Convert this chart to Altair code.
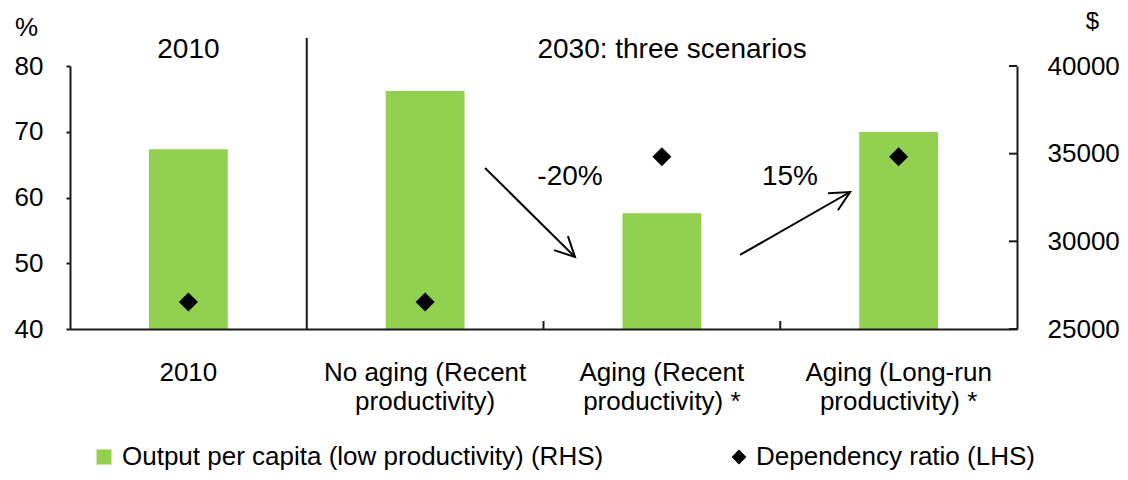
import math
import altair as alt
import pandas as pd

# ---------------- data ----------------
categories = [
    "2010",
    "No aging (Recent|productivity)",
    "Aging (Recent|productivity) *",
    "Aging (Long-run|productivity) *",
]
output_per_capita = [35250, 38570, 31600, 36240]   # $ (RHS)
dependency_ratio = [44.1, 44.1, 66.2, 66.2]         # % (LHS)

lhs_ticks = [40, 50, 60, 70, 80]
rhs_ticks = [25000, 30000, 35000, 40000]

bar_series = "Output per capita (low productivity) (RHS)"
dot_series = "Dependency ratio (LHS)"

# annotations, in (category-position, RHS $) units
arrow_x = [1.753, 2.830]
arrow_y = [34183, 29221]
arrow_x2 = [2.133, 3.295]
arrow_y2 = [29107, 32814]
arrow_text = ["-20%", "15%"]
arrow_text_x = [2.112, 3.041]
arrow_text_y = [33670, 33670]

header_text = ["2010", "2030: three scenarios"]
header_x = [0.5, 2.543]
header_y = [40456, 40456]

separator_x = [1]
separator_top = [41597]
boundary_ticks = [2, 3]

# ---------------- layout ----------------
W, H = 947, 263
FONT = "Liberation Sans"
GREEN = "#92D050"
INK = "#1a1a1a"
RHS_DOMAIN = [25000, 40000]
LHS_DOMAIN = [40, 80]

df = pd.DataFrame({
    "cat": categories,
    "out": output_per_capita,
    "ratio": dependency_ratio,
    "s1": bar_series,
    "s2": dot_series,
})

band_scale = alt.Scale(paddingInner=0, paddingOuter=0)

bars = alt.Chart(df).mark_bar(width=alt.RelativeBandSize(0.333), color=GREEN).encode(
    x=alt.X("cat:N", sort=categories, scale=band_scale, title=None,
            axis=alt.Axis(labelExpr="split(datum.value, '|')", ticks=False, tickSize=0,
                          labelAngle=0, labelFontSize=26, labelPadding=30, labelLineHeight=29,
                          labelFont=FONT, labelColor="#000", labelBaseline="top", labelLimit=0,
                          domainColor=INK, domainWidth=2, zindex=1)),
    y=alt.Y("out:Q", scale=alt.Scale(domain=RHS_DOMAIN, nice=False, zero=False),
            axis=alt.Axis(orient="right", values=rhs_ticks, ticks=False, tickSize=0,
                          labelPadding=30, format="d", labelFontSize=26, labelFont=FONT,
                          labelColor="#000", domainColor=INK, domainWidth=2, grid=False,
                          labelLimit=0, zindex=1,
                          title="$", titleAngle=0, titleX=75, titleY=-38, titleAlign="center",
                          titleBaseline="alphabetic", titleFontSize=24, titleFontWeight="normal",
                          titleFont=FONT, titleColor="#000")),
    y2=alt.datum(RHS_DOMAIN[0]),
    color=alt.Color("s1:N", scale=alt.Scale(range=[GREEN]),
                    legend=alt.Legend(title=None, orient="none", legendX=21, legendY=378,
                                      symbolType="square", symbolSize=225, labelFontSize=26,
                                      labelFont=FONT, labelColor="#000", labelOffset=5,
                                      labelLimit=0, padding=0, symbolStrokeWidth=0)),
)

points = alt.Chart(df).mark_point(filled=True, size=360, color="black", opacity=1).encode(
    x=alt.X("cat:N", sort=categories, scale=band_scale, axis=None),
    y=alt.Y("ratio:Q", scale=alt.Scale(domain=LHS_DOMAIN, nice=False, zero=False),
            axis=alt.Axis(orient="left", values=lhs_ticks, tickSize=4, tickWidth=2, tickColor=INK,
                          labelPadding=23, labelFontSize=26, labelFont=FONT, labelColor="#000",
                          domainColor=INK, domainWidth=2, grid=False, zindex=1,
                          title="%", titleAngle=0, titleX=-44, titleY=-31, titleAlign="center",
                          titleBaseline="alphabetic", titleFontSize=26, titleFontWeight="normal",
                          titleFont=FONT, titleColor="#000")),
    shape=alt.Shape("s2:N", scale=alt.Scale(range=["diamond"]),
                    legend=alt.Legend(title=None, orient="none", legendX=656, legendY=378,
                                      symbolSize=220, symbolFillColor="black", symbolStrokeWidth=0,
                                      labelFontSize=26, labelFont=FONT, labelColor="#000",
                                      labelOffset=4, labelLimit=0, padding=0)),
)

# ---------- annotation layer (quantitative x over the 4 category slots) ----------
ax = alt.X("x:Q", scale=alt.Scale(domain=[0, 4], nice=False, zero=False), axis=None)
ay = alt.Y("y:Q", scale=alt.Scale(domain=RHS_DOMAIN, nice=False, zero=False), axis=None)

sep = alt.Chart(pd.DataFrame({"x": separator_x, "y": separator_top, "y2": [RHS_DOMAIN[0]]})).mark_rule(
    color=INK, strokeWidth=2).encode(x=ax, y=ay, y2="y2:Q")

tick_len_y = 8 * (RHS_DOMAIN[1] - RHS_DOMAIN[0]) / H
btm = alt.Chart(pd.DataFrame({"x": boundary_ticks, "y": [RHS_DOMAIN[0]] * len(boundary_ticks),
                              "y2": [RHS_DOMAIN[0] + tick_len_y] * len(boundary_ticks)})).mark_rule(
    color=INK, strokeWidth=2).encode(x=ax, y=ay, y2="y2:Q")

tick_len_x = 8 * 4 / W
rtk = alt.Chart(pd.DataFrame({"x": [4 - tick_len_x] * len(rhs_ticks), "x2": [4] * len(rhs_ticks),
                              "y": rhs_ticks})).mark_rule(color=INK, strokeWidth=2).encode(
    x=ax, x2="x2:Q", y=ay)

adf = pd.DataFrame({"x": arrow_x, "y": arrow_y, "x2": arrow_x2, "y2": arrow_y2})
shafts = alt.Chart(adf).mark_rule(color="black", strokeWidth=2).encode(x=ax, x2="x2:Q", y=ay, y2="y2:Q")

px_per_x = W / 4
px_per_y = H / (RHS_DOMAIN[1] - RHS_DOMAIN[0])
angles = []
for x1, y1, x2, y2 in zip(arrow_x, arrow_y, arrow_x2, arrow_y2):
    dx = (x2 - x1) * px_per_x
    dy = -(y2 - y1) * px_per_y
    angles.append(math.degrees(math.atan2(dx, -dy)) % 360)
hdf = pd.DataFrame({"x": arrow_x2, "y": arrow_y2, "ang": angles})
heads = alt.Chart(hdf).mark_point(shape="M-0.5,1L0,0L0.5,1", filled=False, size=1550,
                                  strokeWidth=2, color="black", opacity=1).encode(
    x=ax, y=ay, angle=alt.Angle("ang:Q", scale=None))

tdf = pd.DataFrame({"x": arrow_text_x, "y": arrow_text_y, "t": arrow_text})
atext = alt.Chart(tdf).mark_text(fontSize=28, font=FONT, color="#000", baseline="middle",
                                 align="center").encode(x=ax, y=ay, text="t:N")

hd = pd.DataFrame({"x": header_x, "y": header_y, "t": header_text})
headers = alt.Chart(hd).mark_text(fontSize=28, font=FONT, color="#000", baseline="alphabetic",
                                  align="center").encode(x=ax, y=ay, text="t:N")

annot = alt.layer(sep, btm, rtk, shafts, heads, atext, headers)

chart = alt.layer(bars, points, annot).resolve_scale(
    x="independent", y="independent"
).properties(
    width=W, height=H,
    padding={"left": 62, "top": 58, "right": 103, "bottom": 143},
    autosize=alt.AutoSizeParams(type="none"),
).configure_view(stroke=None).configure_axis(grid=False)

chart.save("out.html", embed_options={"renderer": "svg", "actions": False})
